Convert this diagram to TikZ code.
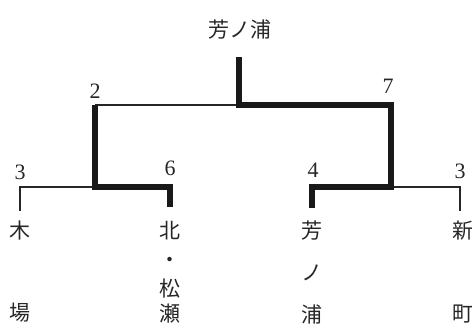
\documentclass[tikz,border=0pt]{standalone}
\usepackage{fontspec}
\newfontfamily\cjk{Noto Sans CJK JP}
\newfontfamily\numfont{Liberation Serif}
\begin{document}
\begin{tikzpicture}[x=1pt,y=-1pt,
  thinln/.style={line width=1.6pt,draw=black!85},
  thickln/.style={line width=6.2pt,draw=black!90,line join=miter},
  score/.style={font=\numfont\fontsize{22}{22}\selectfont,text=black!85,inner sep=0pt},
  team/.style={font=\cjk\fontsize{21}{21}\selectfont,text=black!85,inner sep=0pt},
  title/.style={font=\cjk\fontsize{21}{21}\selectfont,text=black!85,inner sep=0pt}]
\useasboundingbox (0,0) rectangle (472,325);
% title
\node[title] (champ) at (240,30) {芳ノ浦};
% junction coordinates
\coordinate (top) at (239,57);
\coordinate (fm) at (239,105);
\coordinate (fl) at (95,105);
\coordinate (fr) at (391,105);
\coordinate (sl) at (95,187);
\coordinate (sr) at (391,187);
\coordinate (a1) at (20,187);
\coordinate (a2) at (170,187);
\coordinate (b1) at (312,187);
\coordinate (b2) at (460,187);
\coordinate (a1e) at (20,211);
\coordinate (a2e) at (170,207);
\coordinate (b1e) at (312,208);
\coordinate (b2e) at (460,211);
% thin lines
\draw[thinln] (fl) -- (fm);
\draw[thinln] (a1e) -- (a1) -- (sl);
\draw[thinln] (sr) -- (b2) -- (b2e);
% thick lines
\draw[thickln] (top) -- (fm) -- (fr) -- (sr) -- (b1) -- (b1e);
\draw[thickln] (fl) -- (sl) -- (a2) -- (a2e);
% scores
\node[score] (s2) at (95,91) {2};
\node[score] (s7) at (388,86) {7};
\node[score] (s3a) at (20,172) {3};
\node[score] (s6) at (170,168) {6};
\node[score] (s4) at (313,170) {4};
\node[score] (s3b) at (460,171) {3};
% teams
\node[team] (t1a) at (20,231) {木};
\node[team] (t1b) at (20,313) {場};
\node[team] (t2a) at (170,231) {北};
\node[team] (t2b) at (170,262) {・};
\node[team] (t2c) at (170,289) {松};
\node[team] (t2d) at (170,314) {瀬};
\node[team] (t3a) at (312,231) {芳};
\node[team] (t3b) at (312,273) {ノ};
\node[team] (t3c) at (312,314) {浦};
\node[team] (t4a) at (463,231) {新};
\node[team] (t4b) at (463,314) {町};
\end{tikzpicture}
\end{document}
